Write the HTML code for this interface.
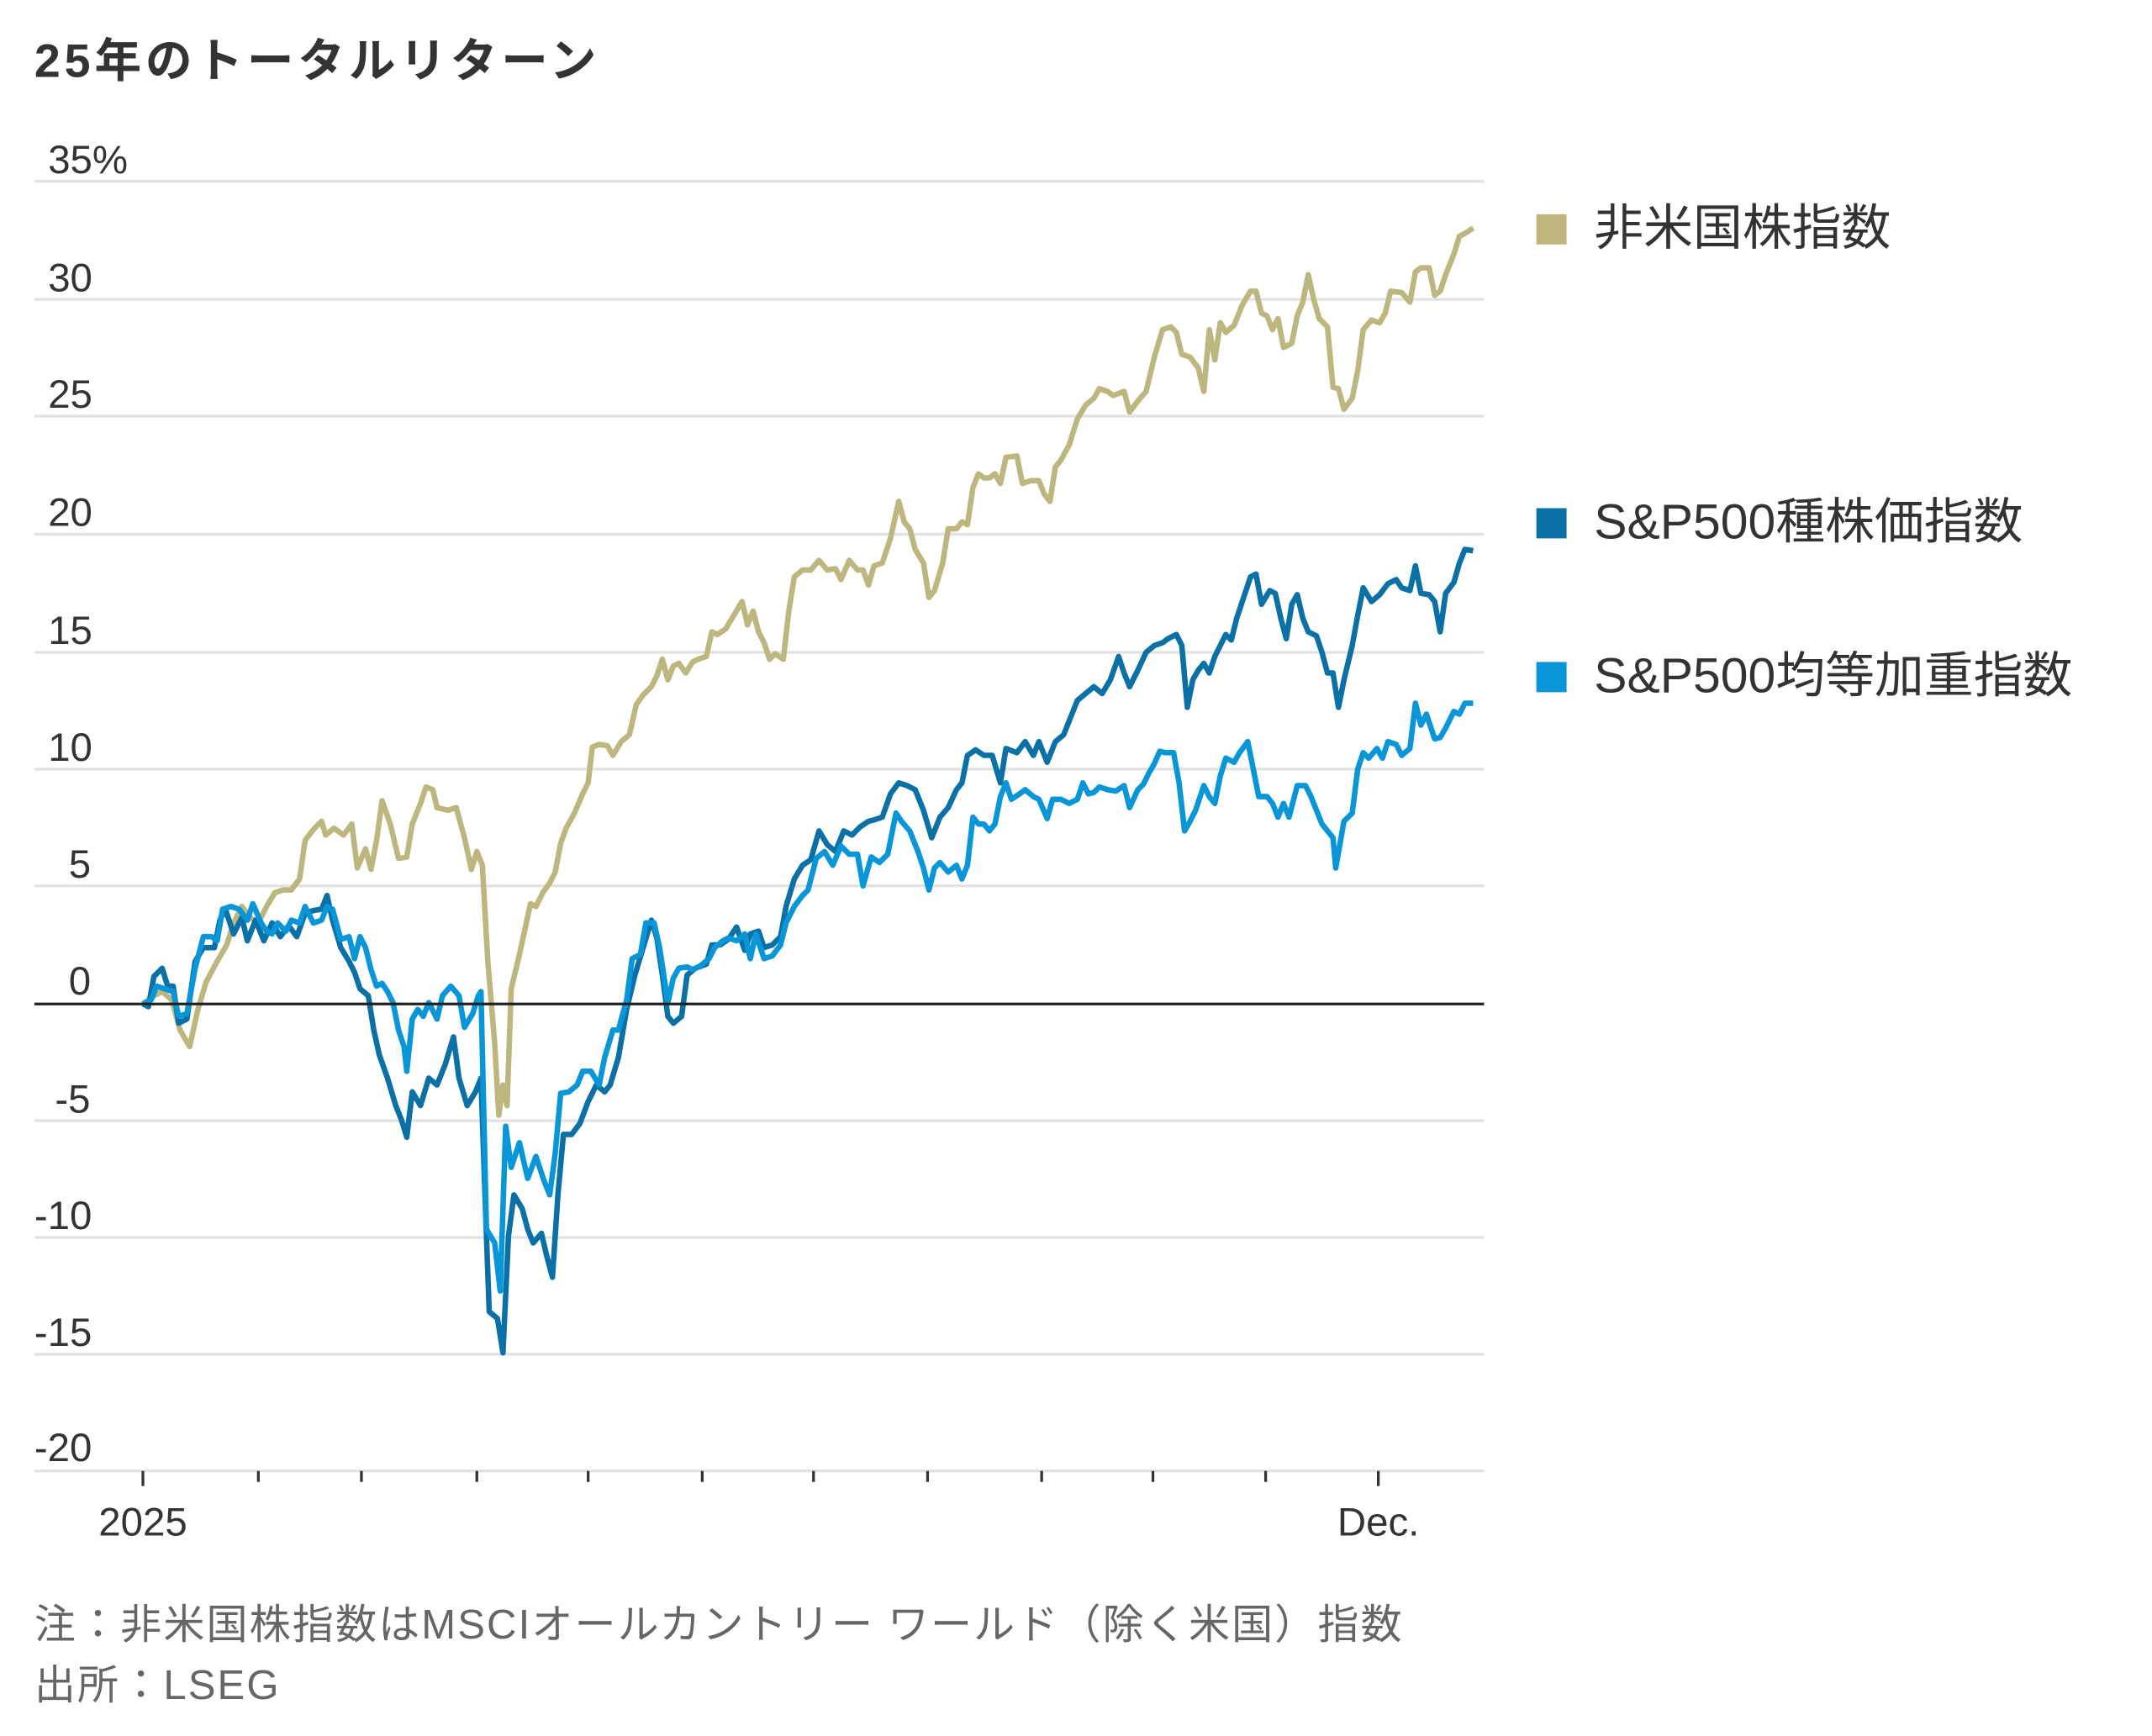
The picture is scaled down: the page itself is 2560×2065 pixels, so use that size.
<!DOCTYPE html>
<html><head><meta charset="utf-8"><style>
html,body{margin:0;padding:0;background:#fff;}
svg{display:block;}
text{font-family:"Liberation Sans","Noto Sans CJK JP",sans-serif;}
</style></head><body>
<svg width="2560" height="2065" viewBox="0 0 1566 1264" preserveAspectRatio="none" xmlns="http://www.w3.org/2000/svg">
<rect width="1566" height="1264" fill="#fff"/>
<text x="25" y="56" font-size="34" font-weight="bold" fill="#333" letter-spacing="3">25年のトータルリターン</text>
<g stroke="#e2e2e2" stroke-width="2">
<line x1="25" x2="1080" y1="132" y2="132"/><line x1="25" x2="1080" y1="218" y2="218"/>
<line x1="25" x2="1080" y1="303" y2="303"/><line x1="25" x2="1080" y1="389" y2="389"/>
<line x1="25" x2="1080" y1="475" y2="475"/><line x1="25" x2="1080" y1="560" y2="560"/>
<line x1="25" x2="1080" y1="645" y2="645"/><line x1="25" x2="1080" y1="816" y2="816"/>
<line x1="25" x2="1080" y1="901" y2="901"/><line x1="25" x2="1080" y1="986" y2="986"/>
<line x1="25" x2="1080" y1="1071" y2="1071"/>
</g>
<g font-size="29" fill="#333">
<text x="35" y="126">35%</text><text x="35" y="212">30</text><text x="35" y="297">25</text>
<text x="35" y="383">20</text><text x="35" y="469">15</text><text x="35" y="554">10</text>
<text x="50" y="639">5</text><text x="50" y="724">0</text><text x="40" y="810">-5</text>
<text x="25" y="895">-10</text><text x="25" y="980">-15</text><text x="25" y="1064">-20</text>
</g>
<g stroke="#333" stroke-width="2">
<line x1="104" x2="104" y1="1071" y2="1082"/><line x1="188" x2="188" y1="1071" y2="1079"/>
<line x1="263" x2="263" y1="1071" y2="1079"/><line x1="347" x2="347" y1="1071" y2="1079"/>
<line x1="428" x2="428" y1="1071" y2="1079"/><line x1="511" x2="511" y1="1071" y2="1079"/>
<line x1="592" x2="592" y1="1071" y2="1079"/><line x1="675" x2="675" y1="1071" y2="1079"/>
<line x1="758" x2="758" y1="1071" y2="1079"/><line x1="839" x2="839" y1="1071" y2="1079"/>
<line x1="921" x2="921" y1="1071" y2="1079"/><line x1="1003" x2="1003" y1="1071" y2="1082"/>
</g>
<text x="104" y="1118" font-size="29" fill="#333" text-anchor="middle">2025</text>
<text x="1003" y="1118" font-size="29" fill="#333" text-anchor="middle">Dec.</text>
<g fill="none" stroke-width="4" stroke-linejoin="round">
<polyline stroke="#bdb77f" points="104,731 112,725 118,722 125,728 131,750 138,762 144,735 150,715 158,700 165,688 170,672 176,660 182,668 188,672 194,660 200,650 206,648 212,648 218,640 222,612 228,604 234,598 237,608 243,603 250,608 256,600 260,632 266,618 270,633 274,612 278,583 284,600 290,625 296,624 300,600 306,585 310,573 315,575 318,588 326,590 332,588 338,610 343,633 347,620 351,630 355,700 360,760 363,812 366,790 369,805 372,720 378,695 383,672 386,658 390,660 395,650 400,643 404,635 408,614 412,603 418,592 424,578 428,570 431,544 436,542 442,543 446,550 452,540 458,535 463,513 468,506 474,500 478,492 482,480 486,495 490,485 494,483 499,490 504,482 508,480 514,478 518,460 522,462 528,458 534,448 540,438 544,455 548,445 552,460 556,468 560,480 564,476 570,480 574,445 578,420 584,415 590,415 596,408 602,415 608,414 612,422 618,408 624,415 628,415 632,426 636,412 642,410 648,392 654,365 658,380 662,385 666,400 672,410 676,435 680,430 686,410 690,385 696,385 700,380 704,382 708,355 712,345 716,348 720,348 724,345 728,352 732,333 740,332 744,352 750,350 756,350 760,360 764,365 768,340 772,335 778,324 784,305 790,295 796,290 800,283 806,285 810,288 818,285 822,300 828,292 834,285 840,260 846,240 852,238 856,242 860,258 866,260 872,268 876,285 880,240 884,262 888,235 892,242 898,237 904,222 910,212 914,212 918,228 922,230 926,240 930,232 934,253 940,250 944,230 948,220 952,200 956,218 960,232 966,238 970,282 974,283 978,298 984,290 988,270 992,240 998,233 1004,235 1008,228 1012,212 1020,213 1026,220 1030,198 1034,195 1040,195 1044,215 1048,212 1052,200 1058,185 1062,172 1066,170 1072,166"/>
<polyline stroke="#0a70a6" points="104,731 108,733 112,711 118,705 122,718 126,718 130,745 136,742 142,700 148,690 156,690 160,670 164,662 170,680 176,668 180,685 186,670 192,685 198,672 204,682 210,674 216,682 222,665 228,663 234,662 238,652 242,670 248,690 254,700 258,708 262,720 268,725 272,750 276,768 282,785 288,805 292,815 296,828 300,795 306,805 312,785 318,790 324,775 330,755 334,785 340,805 346,795 350,785 354,900 356,955 362,960 366,985 370,900 374,870 380,880 384,895 388,905 394,898 398,915 402,930 406,870 410,826 416,826 422,818 428,802 434,790 440,795 444,790 450,770 456,735 462,710 468,690 474,670 478,683 482,710 486,740 490,745 496,740 500,710 506,705 514,702 518,688 524,688 530,684 536,675 542,692 546,680 552,678 556,690 562,688 568,682 572,660 578,640 584,630 590,626 596,605 602,615 608,620 614,605 620,608 626,602 632,598 636,597 642,595 648,578 654,570 660,572 666,575 672,590 678,610 684,595 690,588 696,575 700,570 704,550 710,546 716,550 722,550 728,570 732,545 740,548 746,540 752,550 756,540 762,555 768,540 774,535 778,525 784,510 790,505 796,500 802,505 808,495 814,478 818,490 822,500 828,488 834,475 840,470 846,468 850,465 856,462 860,470 864,515 868,495 872,488 876,483 880,490 884,478 888,470 892,462 896,466 900,450 904,438 910,420 914,418 918,440 924,430 928,432 932,450 936,465 940,440 944,433 948,450 952,460 958,463 962,475 966,490 970,490 974,515 978,495 984,470 988,448 992,428 998,438 1004,433 1010,425 1016,422 1020,428 1026,430 1030,412 1034,432 1040,433 1044,438 1048,460 1052,432 1058,424 1062,410 1066,400 1072,401"/>
<polyline stroke="#0896d9" points="104,731 110,728 114,718 120,720 126,722 130,740 136,738 142,705 148,682 154,682 158,685 162,662 168,660 174,662 180,670 184,658 190,672 194,678 198,680 202,672 208,678 212,670 218,672 222,660 228,672 234,670 238,660 242,662 248,684 254,682 258,698 262,682 266,690 270,706 274,718 278,716 282,722 286,730 290,750 294,762 296,780 300,742 304,735 308,740 312,730 318,742 322,725 328,718 334,725 338,748 344,738 348,725 350,722 354,895 360,905 364,940 368,820 372,850 378,832 384,858 390,842 396,860 400,870 404,840 408,796 414,795 420,790 424,780 430,780 436,790 440,770 446,750 450,750 456,728 460,698 466,695 470,672 476,672 480,690 486,730 490,712 494,705 500,704 504,706 510,703 516,698 520,690 526,685 530,683 536,685 542,680 546,698 550,680 556,698 562,696 568,688 572,672 578,660 584,652 588,648 594,625 600,620 606,630 612,616 618,622 624,622 628,645 634,624 640,628 646,622 652,592 656,598 662,605 668,620 672,632 676,648 680,632 684,628 690,635 696,630 700,640 704,630 708,595 712,600 716,600 720,605 724,600 728,580 732,570 736,582 742,578 746,575 752,580 756,582 762,596 766,582 772,582 778,585 784,582 788,570 792,578 796,577 800,573 806,575 812,576 818,572 822,588 828,575 832,571 836,563 840,556 844,547 848,548 854,548 858,570 862,605 866,598 870,590 876,572 880,580 884,585 888,565 892,552 898,555 902,548 908,540 912,560 916,580 922,580 926,585 930,595 934,585 938,595 944,572 950,572 954,580 958,590 962,600 966,605 970,610 972,632 978,598 984,592 988,560 992,548 996,552 1002,545 1006,552 1010,540 1016,542 1020,550 1026,545 1030,512 1034,528 1038,520 1044,538 1048,537 1052,530 1058,518 1062,520 1066,512 1072,512"/>
</g>
<line x1="25" x2="1080" y1="731" y2="731" stroke="#222" stroke-width="2"/>
<rect x="1118" y="156" width="22" height="22" fill="#bdb77f"/>
<text x="1160" y="178" font-size="36" fill="#333">非米国株指数</text>
<rect x="1118" y="370" width="22" height="22" fill="#0a70a6"/>
<text x="1160" y="392" font-size="36" fill="#333">S&amp;P500種株価指数</text>
<rect x="1118" y="482" width="22" height="22" fill="#0896d9"/>
<text x="1160" y="504" font-size="36" fill="#333">S&amp;P500均等加重指数</text>
<text x="25" y="1193" font-size="30" fill="#666" letter-spacing="1.3">注：非米国株指数はMSCIオールカントリー ワールド（除く米国）指数</text>
<text x="25" y="1237" font-size="30" fill="#666" letter-spacing="1.3">出所：LSEG</text>
</svg>
</body></html>
